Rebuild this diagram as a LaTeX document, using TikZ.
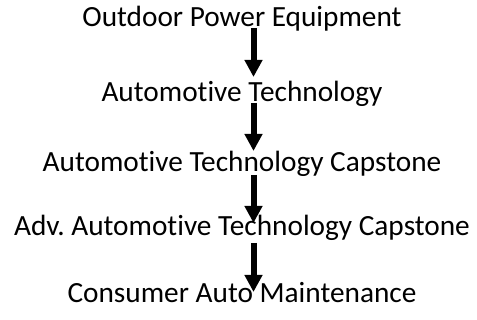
\documentclass[tikz,border=0pt]{standalone}
\usepackage{fontspec}
\setmainfont[Ligatures=NoCommon]{Carlito}
\usetikzlibrary{arrows.meta}
\frenchspacing

\begin{document}
\begin{tikzpicture}[x=1pt,y=1pt,
  course/.style={font=\fontsize{29.3}{34}\selectfont,inner sep=0,anchor=base},
  flow/.style={line width=6pt,-{Triangle[width=17pt,length=17pt]}}]
\useasboundingbox (0,0) rectangle (477,320);
\node[course] (outdoor) at (242,293) {Outdoor Power Equipment};
\node[course] (autotech) at (242,218) {Automotive Technology};
\node[course] (capstone) at (242,148) {Automotive Technology Capstone};
\node[course] (advcap) at (242,84) {Adv. Automotive Technology Capstone};
\node[course] (consumer) at (242,17) {Consumer Auto Maintenance};
\draw[flow] ([shift={(11.5,-1)}]outdoor.base) -- ([shift={(11.5,25)}]autotech.base);
\draw[flow] ([shift={(11.5,-1)}]autotech.base) -- ([shift={(11.5,21)}]capstone.base);
\draw[flow] ([shift={(11.5,-3)}]capstone.base) -- ([shift={(11.5,13)}]advcap.base);
\draw[flow] ([shift={(11.5,-7)}]advcap.base) -- ([shift={(11.5,11)}]consumer.base);
\end{tikzpicture}
\end{document}
